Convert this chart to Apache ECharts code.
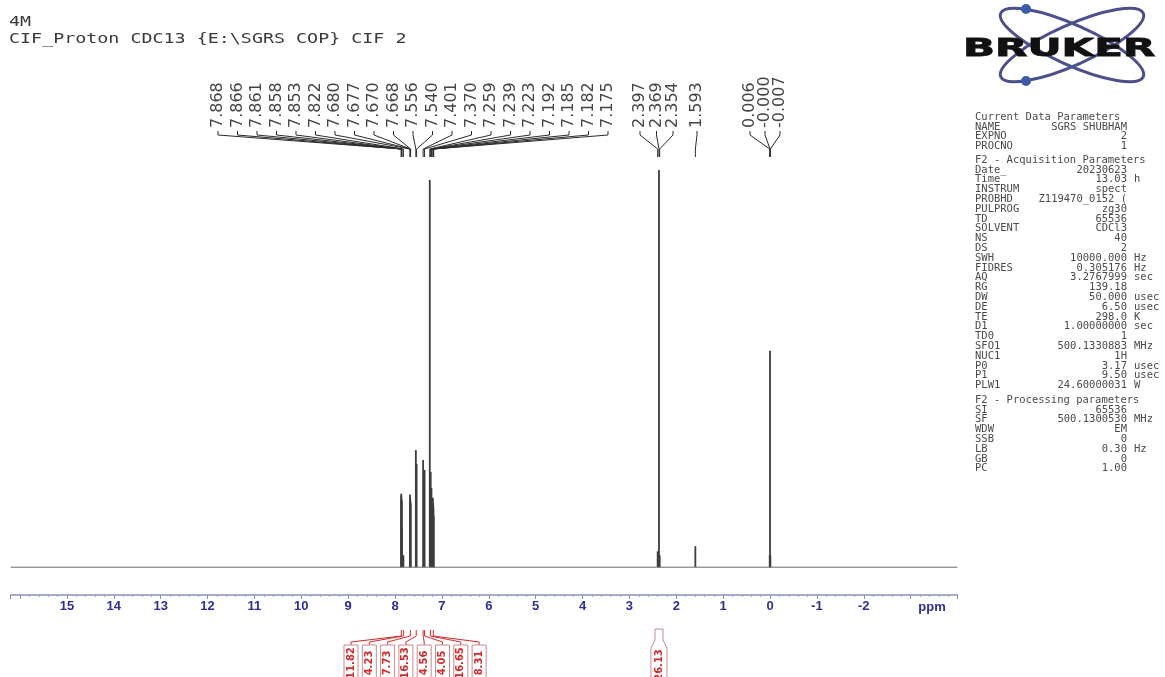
<!DOCTYPE html>
<html><head><meta charset="utf-8">
<script src="https://cdn.jsdelivr.net/npm/echarts@6/dist/echarts.min.js"></script>
<style>html,body{margin:0;padding:0;background:#fff}#c{width:1165px;height:677px}</style>
</head><body><div id="c"></div>
<script>
// ---------- data ----------
const titleLines = ['4M', 'CIF_Proton CDC13 {E:\\SGRS COP} CIF 2'];
const peakPpm = [7.868,7.866,7.861,7.858,7.853,7.822,7.680,7.677,7.670,7.668,7.556,7.540,7.401,7.370,7.259,7.239,7.223,7.192,7.185,7.182,7.175,2.397,2.369,2.354,1.593,0.006,0.000,-0.007];
const peakHeight = [18.5,18.0,17.0,16.5,10,3,18.3,17.5,16.5,16,29.5,26,27,24.5,97.5,24,20,17.5,16,15,13,4,100,3,5.3,3,54.5,3];
const peakLabels = ['7.868','7.866','7.861','7.858','7.853','7.822','7.680','7.677','7.670','7.668','7.556','7.540','7.401','7.370','7.259','7.239','7.223','7.192','7.185','7.182','7.175','2.397','2.369','2.354','1.593','0.006','-0.000','-0.007'];
const baselinePpm = [16.2, -4];
const integralPpm = [7.866, 7.822, 7.674, 7.548, 7.401, 7.370, 7.245, 7.183, 2.369];
const integralLabels = ['11.82','4.23','7.73','16.53','4.56','4.05','16.65','8.31','26.13'];
const axisTickLabels = ['15','14','13','12','11','10','9','8','7','6','5','4','3','2','1','0','-1','-2'];
const paramCurrent = [['NAME','SGRS SHUBHAM',''],['EXPNO','2',''],['PROCNO','1','']];
const paramAcq = [['Date_','20230623',''],['Time','13.03','h'],['INSTRUM','spect',''],['PROBHD','Z119470_0152 (',''],['PULPROG','zg30',''],['TD','65536',''],['SOLVENT','CDCl3',''],['NS','40',''],['DS','2',''],['SWH','10000.000','Hz'],['FIDRES','0.305176','Hz'],['AQ','3.2767999','sec'],['RG','139.18',''],['DW','50.000','usec'],['DE','6.50','usec'],['TE','298.0','K'],['D1','1.00000000','sec'],['TD0','1',''],['SFO1','500.1330883','MHz'],['NUC1','1H',''],['P0','3.17','usec'],['P1','9.50','usec'],['PLW1','24.60000031','W']];
const paramProc = [['SI','65536',''],['SF','500.1300530','MHz'],['WDW','EM',''],['SSB','0',''],['LB','0.30','Hz'],['GB','0',''],['PC','1.00','']];

// ---------- chart ----------
const chart = echarts.init(document.getElementById('c'), null, {renderer:'canvas'});
const peaks = peakPpm.map((p, i) => [p, peakHeight[i]]);
const baseline = baselinePpm.map(p => [p, 0]);

chart.setOption({
  animation: false,
  backgroundColor: '#fff',
  grid: {left: 10.7, right: 207.5, top: 170, bottom: 82},
  xAxis: {
    type: 'value', inverse: true, min: -4, max: 16.2, interval: 1,
    axisLine: {onZero: false, lineStyle: {color: '#8a8fb8', width: 1.5}},
    axisTick: {show: true, length: 4, lineStyle: {color: '#8a8fb8'}},
    minorTick: {show: true, splitNumber: 5, length: 2, lineStyle: {color: '#a0a5c8'}},
    splitLine: {show: false},
    axisLabel: {
      interval: 0, margin: 5, color: '#2d2d96', fontWeight: 'bold', fontSize: 13,
      fontFamily: 'Liberation Sans, Arial, sans-serif',
      formatter: v => axisTickLabels.indexOf(String(v)) >= 0 ? String(v) : ''
    }
  },
  yAxis: {type: 'value', min: -7, max: 100, show: false},
  series: [
    {type: 'line', data: baseline, symbol: 'none', silent: true, lineStyle: {color: '#6a6a6a', width: 1}},
    {type: 'custom', data: peaks, encode: {x: 0, y: 1}, silent: true,
     renderItem: (params, api) => {
       const p0 = api.coord([api.value(0), 0]);
       const p1 = api.coord([api.value(0), api.value(1)]);
       return {type: 'line', shape: {x1: p0[0], y1: p0[1], x2: p1[0], y2: p1[1]},
               style: {stroke: '#3c3c3c', lineWidth: 1.8}};
     }}
  ]
});

// ---------- annotations ----------
const px = v => chart.convertToPixel({gridIndex: 0}, [v, 0])[0];
const g = [];
const mono = '"DejaVu Sans Mono", monospace';

// title
g.push({type: 'text', x: 9, y: 22.5, scaleX: 1.31, style: {text: titleLines[0], font: '14px ' + mono, fill: '#3a3a3a', verticalAlign: 'middle'}});
g.push({type: 'text', x: 9, y: 39, scaleX: 1.31, style: {text: titleLines[1], font: '14px ' + mono, fill: '#3a3a3a', verticalAlign: 'middle'}});

// peak labels with fan connectors
const labelLayout = [{start: 218, pitch: 19.5, count: 21}, {start: 640, pitch: 16.5, count: 3}, {start: 697, pitch: 0, count: 1}, {start: 750, pitch: 15, count: 3}];
let idx = 0;
labelLayout.forEach(grp => {
  for (let k = 0; k < grp.count; k++, idx++) {
    const lx = grp.start + k * grp.pitch;
    const pk = px(peakPpm[idx]);
    g.push({type: 'text', x: lx, y: 128, rotation: Math.PI / 2,
            style: {text: peakLabels[idx], font: '16px "DejaVu Sans", sans-serif', fill: '#444', align: 'left', verticalAlign: 'middle'}});
    g.push({type: 'polyline', shape: {points: [[lx, 131], [lx, 135], [pk, 149], [pk, 157]]},
            style: {stroke: '#2a2a2a', lineWidth: 1, fill: null}});
  }
});

// integrals
const red = '#d22a2a';
for (let i = 0; i < 8; i++) {
  const bx = 344 + i * 18.3, bw = 14, cx = bx + bw / 2;
  const pk = px(integralPpm[i]);
  g.push({type: 'polyline', shape: {points: [[pk, 630], [pk, 636], [cx, 642], [cx, 645]]}, style: {stroke: red, lineWidth: 1, fill: null}});
  g.push({type: 'rect', shape: {x: bx, y: 645, width: bw, height: 45}, style: {stroke: '#c98a8c', fill: null, lineWidth: 1}});
  g.push({type: 'text', x: cx, y: 663, rotation: Math.PI / 2,
          style: {text: integralLabels[i], font: 'bold 10px "DejaVu Sans", sans-serif', fill: red, align: 'center', verticalAlign: 'middle'}});
}
{
  const c = px(integralPpm[8]);
  g.push({type: 'polyline', shape: {points: [[c - 4, 629], [c - 4, 640], [c - 8, 648], [c - 8, 690], [c + 8, 690], [c + 8, 648], [c + 4, 640], [c + 4, 629], [c - 4, 629]]},
          style: {stroke: '#c98a8c', lineWidth: 1, fill: null}});
  g.push({type: 'text', x: c, y: 665, rotation: Math.PI / 2,
          style: {text: integralLabels[8], font: 'bold 10px "DejaVu Sans", sans-serif', fill: red, align: 'center', verticalAlign: 'middle'}});
}

// ppm unit label
g.push({type: 'text', x: 932, y: 607, style: {text: 'ppm', font: 'bold 13px "Liberation Sans", Arial, sans-serif', fill: '#2d2d96', align: 'center', verticalAlign: 'middle'}});

// parameter panel
const pf = '10.5px ' + mono, pc = '#4a4a4a';
const nameX = 975, valX = 1127, unitX = 1134, step = 9.8;
function row(y, r) {
  g.push({type: 'text', x: nameX, y: y, style: {text: r[0], font: pf, fill: pc, verticalAlign: 'middle'}});
  g.push({type: 'text', x: valX, y: y, style: {text: r[1], font: pf, fill: pc, align: 'right', verticalAlign: 'middle'}});
  if (r[2]) g.push({type: 'text', x: unitX, y: y, style: {text: r[2], font: pf, fill: pc, verticalAlign: 'middle'}});
}
g.push({type: 'text', x: nameX, y: 117, style: {text: 'Current Data Parameters', font: pf, fill: pc, verticalAlign: 'middle'}});
paramCurrent.forEach((r, i) => row(117 + (i + 1) * step, r));
g.push({type: 'text', x: nameX, y: 160, style: {text: 'F2 - Acquisition Parameters', font: pf, fill: pc, verticalAlign: 'middle'}});
paramAcq.forEach((r, i) => row(160 + (i + 1) * step, r));
g.push({type: 'text', x: nameX, y: 400, style: {text: 'F2 - Processing parameters', font: pf, fill: pc, verticalAlign: 'middle'}});
paramProc.forEach((r, i) => row(400 + (i + 1) * step, r));

// Bruker logo
g.push({type: 'ellipse', x: 1072, y: 45, rotation: -0.42, shape: {cx: 0, cy: 0, rx: 78, ry: 20}, style: {stroke: '#4b4f8c', lineWidth: 3, fill: null}});
g.push({type: 'ellipse', x: 1072, y: 45, rotation: 0.42, shape: {cx: 0, cy: 0, rx: 78, ry: 20}, style: {stroke: '#4b4f8c', lineWidth: 3, fill: null}});
g.push({type: 'circle', shape: {cx: 1026, cy: 9, r: 5}, style: {fill: '#3c5aa8'}});
g.push({type: 'circle', shape: {cx: 1026, cy: 81, r: 5}, style: {fill: '#3c5aa8'}});
g.push({type: 'text', x: 963, y: 49.5, scaleX: 1.71,
        style: {text: 'BRUKER', font: 'bold 24.6px "DejaVu Sans", sans-serif', fill: '#111', stroke: '#111', lineWidth: 0.8, verticalAlign: 'middle'}});

chart.setOption({graphic: g});
</script>
</body></html>
